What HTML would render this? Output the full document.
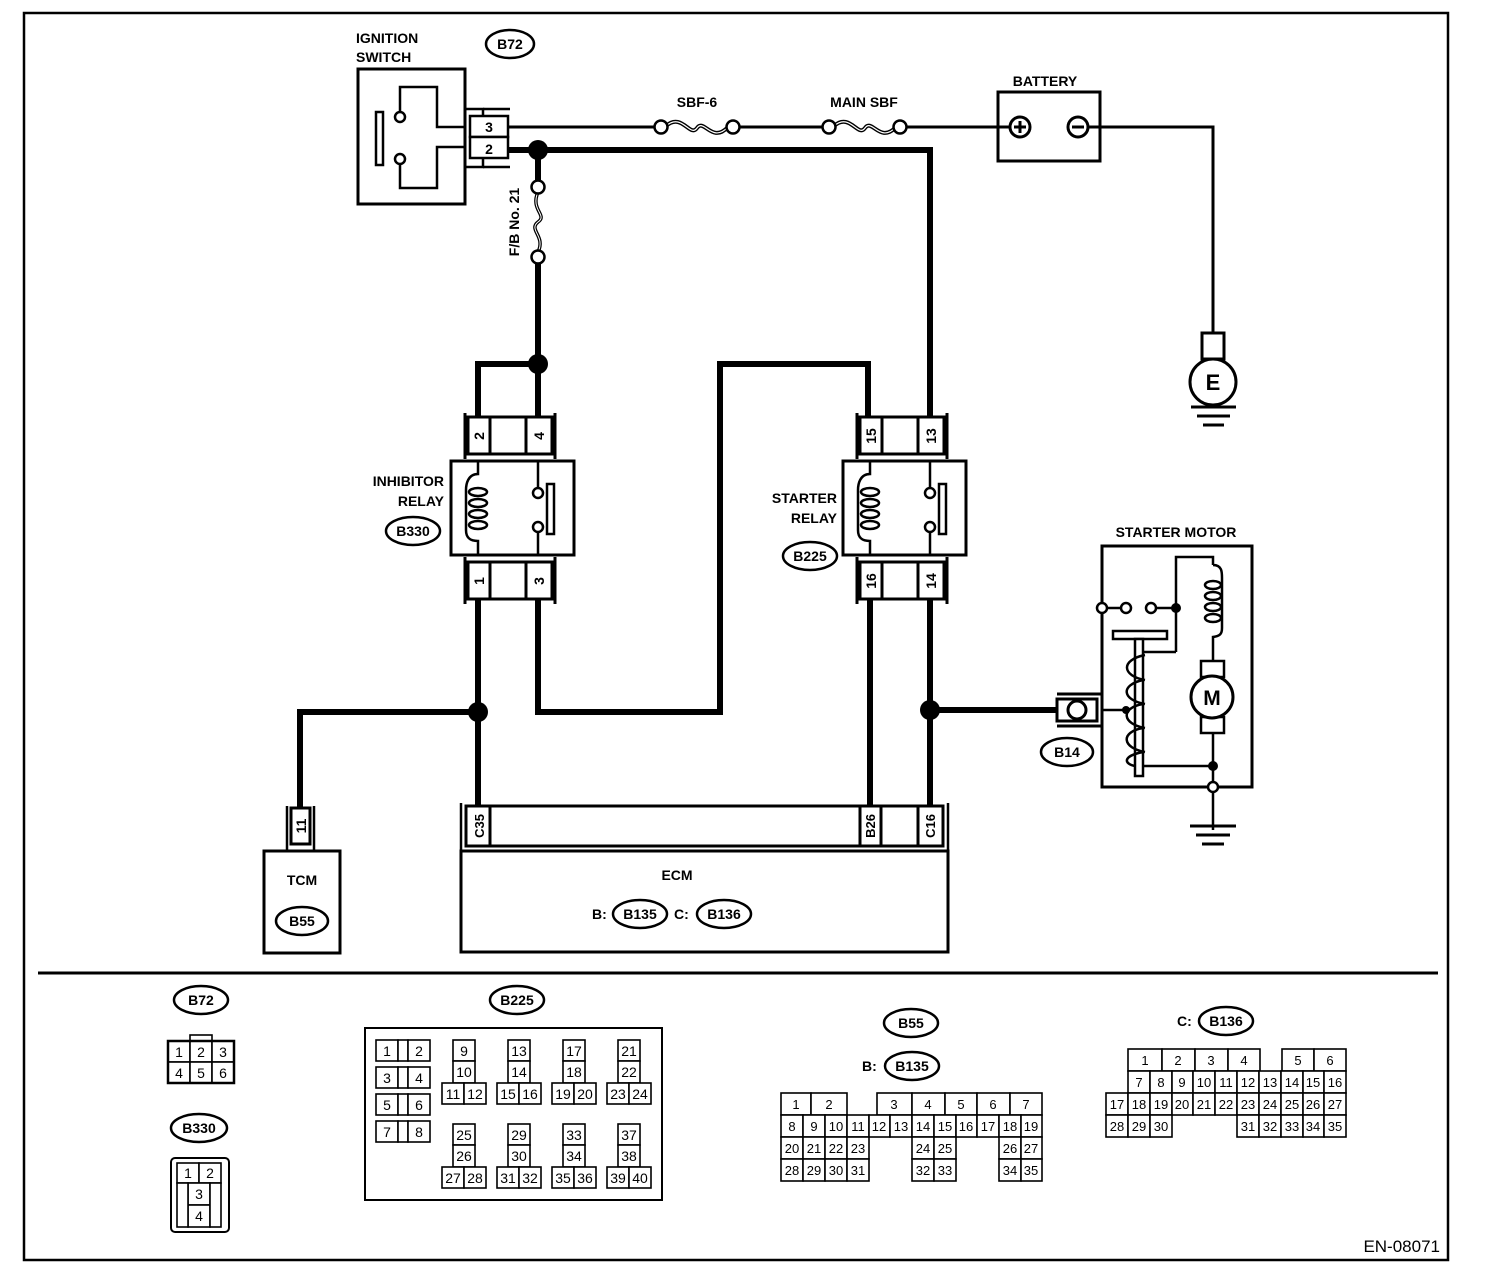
<!DOCTYPE html>
<html><head><meta charset="utf-8"><style>
html,body{margin:0;padding:0;background:#fff;}
svg{display:block;}
text{font-family:"Liberation Sans",Arial,sans-serif;fill:#000;}
.b{font-weight:bold;font-size:14px;}
.n{font-size:14px;}
.g rect{fill:#fff;stroke:#000;stroke-width:1.6;}
</style></head><body>
<svg width="1504" height="1274" viewBox="0 0 1504 1274" xmlns="http://www.w3.org/2000/svg">
<rect x="24" y="13" width="1424" height="1247" fill="none" stroke="#000" stroke-width="2.5"/>
<line x1="38" y1="973" x2="1438" y2="973" stroke="#000" stroke-width="3"/>

<!-- Ignition switch -->
<text class="b" x="356" y="43">IGNITION</text>
<text class="b" x="356" y="62">SWITCH</text>
<ellipse cx="510" cy="44" rx="24" ry="14" fill="none" stroke="#000" stroke-width="2.5"/>
<text class="b" x="510" y="49" text-anchor="middle">B72</text>
<rect x="358" y="69" width="107" height="135" fill="none" stroke="#000" stroke-width="3"/>
<rect x="376" y="112" width="7" height="53" fill="none" stroke="#000" stroke-width="2.5"/>
<polyline points="400,112 400,87 437,87 437,127 465,127" fill="none" stroke="#000" stroke-width="2.5"/>
<polyline points="400,164 400,188 437,188 437,147 465,147" fill="none" stroke="#000" stroke-width="2.5"/>
<circle cx="400" cy="117" r="5" fill="#fff" stroke="#000" stroke-width="2.5"/>
<circle cx="400" cy="159" r="5" fill="#fff" stroke="#000" stroke-width="2.5"/>
<polyline points="465,109 483,109 483,167 465,167" fill="none" stroke="#000" stroke-width="2.5"/>
<line x1="483" y1="109" x2="510" y2="109" stroke="#000" stroke-width="2.5"/>
<line x1="483" y1="167" x2="510" y2="167" stroke="#000" stroke-width="2.5"/>
<rect x="470" y="116" width="38" height="21" fill="#fff" stroke="#000" stroke-width="2.5"/>
<rect x="470" y="137" width="38" height="21" fill="#fff" stroke="#000" stroke-width="2.5"/>
<text class="b" x="489" y="132" text-anchor="middle">3</text>
<text class="b" x="489" y="154" text-anchor="middle">2</text>

<!-- thin wire 3 to battery -->
<line x1="508" y1="127" x2="655" y2="127" stroke="#000" stroke-width="3"/>
<line x1="739" y1="127" x2="823" y2="127" stroke="#000" stroke-width="3"/>
<line x1="906" y1="127" x2="1012" y2="127" stroke="#000" stroke-width="3"/>
<text class="b" x="697" y="107" text-anchor="middle">SBF-6</text>
<text class="b" x="864" y="107" text-anchor="middle">MAIN SBF</text>
<path d="M666,126 C682,112 690,138 697,128 C704,118 712,144 728,127" fill="none" stroke="#000" stroke-width="4"/>
<path d="M666,126 C682,112 690,138 697,128 C704,118 712,144 728,127" fill="none" stroke="#fff" stroke-width="1.2"/>
<path d="M834,126 C850,112 858,138 865,128 C872,118 880,144 896,127" fill="none" stroke="#000" stroke-width="4"/>
<path d="M834,126 C850,112 858,138 865,128 C872,118 880,144 896,127" fill="none" stroke="#fff" stroke-width="1.2"/>
<circle cx="661" cy="127" r="6.5" fill="#fff" stroke="#000" stroke-width="2.5"/>
<circle cx="733" cy="127" r="6.5" fill="#fff" stroke="#000" stroke-width="2.5"/>
<circle cx="829" cy="127" r="6.5" fill="#fff" stroke="#000" stroke-width="2.5"/>
<circle cx="900" cy="127" r="6.5" fill="#fff" stroke="#000" stroke-width="2.5"/>

<!-- battery -->
<text class="b" x="1045" y="86" text-anchor="middle">BATTERY</text>
<rect x="998" y="92" width="102" height="69" fill="none" stroke="#000" stroke-width="3"/>
<circle cx="1020" cy="127" r="10" fill="#fff" stroke="#000" stroke-width="3"/>
<line x1="1014" y1="127" x2="1026" y2="127" stroke="#000" stroke-width="3"/>
<line x1="1020" y1="121" x2="1020" y2="133" stroke="#000" stroke-width="3"/>
<circle cx="1078" cy="127" r="10" fill="#fff" stroke="#000" stroke-width="3"/>
<line x1="1072" y1="127" x2="1084" y2="127" stroke="#000" stroke-width="3"/>
<polyline points="1088,127 1213,127 1213,333" fill="none" stroke="#000" stroke-width="3"/>
<rect x="1202" y="333" width="22" height="26" fill="#fff" stroke="#000" stroke-width="3"/>
<circle cx="1213" cy="382" r="23" fill="#fff" stroke="#000" stroke-width="3"/>
<text x="1213" y="390" text-anchor="middle" style="font-size:22px;font-weight:bold">E</text>
<line x1="1191" y1="407" x2="1236" y2="407" stroke="#000" stroke-width="3"/>
<line x1="1197" y1="416" x2="1230" y2="416" stroke="#000" stroke-width="3"/>
<line x1="1203" y1="425" x2="1224" y2="425" stroke="#000" stroke-width="3"/>

<!-- thick wires -->
<g fill="none" stroke="#000" stroke-width="6">
<polyline points="508,150 930,150 930,417"/>
<line x1="538" y1="150" x2="538" y2="181"/>
<line x1="538" y1="262" x2="538" y2="417"/>
<polyline points="538,364 478,364 478,417"/>
<polyline points="538,600 538,712 720,712 720,364 868,364 868,417"/>
<line x1="478" y1="600" x2="478" y2="808"/>
<polyline points="478,712 300,712 300,808"/>
<line x1="870" y1="600" x2="870" y2="808"/>
<line x1="930" y1="600" x2="930" y2="808"/>
<line x1="930" y1="710" x2="1057" y2="710"/>
</g>
<circle cx="538" cy="150" r="10" fill="#000"/>
<circle cx="538" cy="364" r="10" fill="#000"/>
<circle cx="478" cy="712" r="10" fill="#000"/>
<circle cx="930" cy="710" r="10" fill="#000"/>
<!-- F/B fuse -->
<path d="M538,192 C530,210 548,215 538,222 C528,230 546,236 538,252" fill="none" stroke="#000" stroke-width="3.5"/>
<path d="M538,192 C530,210 548,215 538,222 C528,230 546,236 538,252" fill="none" stroke="#fff" stroke-width="1"/>
<circle cx="538" cy="187" r="6.5" fill="#fff" stroke="#000" stroke-width="2.5"/>
<circle cx="538" cy="257" r="6.5" fill="#fff" stroke="#000" stroke-width="2.5"/>
<text class="b" transform="translate(519,222) rotate(-90)" text-anchor="middle">F/B No. 21</text>

<!-- relays -->
<g id="relay">
<polyline points="465,413 465,459" fill="none" stroke="#000" stroke-width="3"/>
<polyline points="555,413 555,459" fill="none" stroke="#000" stroke-width="3"/>
<rect x="468" y="417" width="84" height="37" fill="#fff" stroke="#000" stroke-width="3"/>
<line x1="490" y1="417" x2="490" y2="454" stroke="#000" stroke-width="3"/>
<line x1="526" y1="417" x2="526" y2="454" stroke="#000" stroke-width="3"/>
<rect x="451" y="461" width="123" height="94" fill="#fff" stroke="#000" stroke-width="3"/>
<path d="M478,461 L478,474 C468,474 466,484 466,490 L466,530 C466,538 470,541 478,541 L478,555" fill="none" stroke="#000" stroke-width="2.5"/>
<ellipse cx="478" cy="492" rx="9" ry="4" fill="#fff" stroke="#000" stroke-width="2.5"/>
<ellipse cx="478" cy="503" rx="9" ry="4" fill="#fff" stroke="#000" stroke-width="2.5"/>
<ellipse cx="478" cy="514" rx="9" ry="4" fill="#fff" stroke="#000" stroke-width="2.5"/>
<ellipse cx="478" cy="525" rx="9" ry="4" fill="#fff" stroke="#000" stroke-width="2.5"/>
<line x1="538" y1="461" x2="538" y2="488" stroke="#000" stroke-width="2.5"/>
<line x1="538" y1="532" x2="538" y2="555" stroke="#000" stroke-width="2.5"/>
<circle cx="538" cy="493" r="5" fill="#fff" stroke="#000" stroke-width="2.5"/>
<circle cx="538" cy="527" r="5" fill="#fff" stroke="#000" stroke-width="2.5"/>
<rect x="547" y="484" width="7" height="50" fill="#fff" stroke="#000" stroke-width="2.5"/>
<polyline points="465,557 465,604" fill="none" stroke="#000" stroke-width="3"/>
<polyline points="555,557 555,604" fill="none" stroke="#000" stroke-width="3"/>
<rect x="468" y="562" width="84" height="37" fill="#fff" stroke="#000" stroke-width="3"/>
<line x1="490" y1="562" x2="490" y2="599" stroke="#000" stroke-width="3"/>
<line x1="526" y1="562" x2="526" y2="599" stroke="#000" stroke-width="3"/>
</g>
<use href="#relay" transform="translate(392,0)"/>
<g class="b">
<text transform="translate(484,436) rotate(-90)" text-anchor="middle">2</text>
<text transform="translate(544,436) rotate(-90)" text-anchor="middle">4</text>
<text transform="translate(484,581) rotate(-90)" text-anchor="middle">1</text>
<text transform="translate(544,581) rotate(-90)" text-anchor="middle">3</text>
<text transform="translate(876,436) rotate(-90)" text-anchor="middle">15</text>
<text transform="translate(936,436) rotate(-90)" text-anchor="middle">13</text>
<text transform="translate(876,581) rotate(-90)" text-anchor="middle">16</text>
<text transform="translate(936,581) rotate(-90)" text-anchor="middle">14</text>
<text x="444" y="486" text-anchor="end">INHIBITOR</text>
<text x="444" y="506" text-anchor="end">RELAY</text>
<text x="837" y="503" text-anchor="end">STARTER</text>
<text x="837" y="523" text-anchor="end">RELAY</text>
</g>
<ellipse cx="413" cy="531" rx="27" ry="14" fill="none" stroke="#000" stroke-width="2.5"/>
<text class="b" x="413" y="536" text-anchor="middle">B330</text>
<ellipse cx="810" cy="556" rx="27" ry="14" fill="none" stroke="#000" stroke-width="2.5"/>
<text class="b" x="810" y="561" text-anchor="middle">B225</text>

<!-- B14 + starter motor -->
<polyline points="1057,694 1102,694" fill="none" stroke="#000" stroke-width="3"/>
<polyline points="1057,726 1102,726" fill="none" stroke="#000" stroke-width="3"/>
<rect x="1057" y="699" width="40" height="22" fill="#fff" stroke="#000" stroke-width="3"/>
<ellipse cx="1077" cy="710" rx="9" ry="9" fill="#fff" stroke="#000" stroke-width="3"/>
<ellipse cx="1067" cy="752" rx="26" ry="14" fill="none" stroke="#000" stroke-width="2.5"/>
<text class="b" x="1067" y="757" text-anchor="middle">B14</text>
<text class="b" x="1176" y="537" text-anchor="middle">STARTER MOTOR</text>
<rect x="1102" y="546" width="150" height="241" fill="none" stroke="#000" stroke-width="3"/>
<line x1="1102" y1="608" x2="1126" y2="608" stroke="#000" stroke-width="2.5"/>
<line x1="1151" y1="608" x2="1176" y2="608" stroke="#000" stroke-width="2.5"/>
<polyline points="1176,652 1176,557 1213,557 1213,565" fill="none" stroke="#000" stroke-width="2.5"/>
<polyline points="1176,652 1143,652" fill="none" stroke="#000" stroke-width="2.5"/>
<path d="M1213,565 C1222,565 1222,572 1222,578 L1222,628 C1222,634 1220,636 1213,637 L1213,660" fill="none" stroke="#000" stroke-width="2.5"/>
<ellipse cx="1213" cy="585" rx="8" ry="4" fill="#fff" stroke="#000" stroke-width="2.5"/>
<ellipse cx="1213" cy="596" rx="8" ry="4" fill="#fff" stroke="#000" stroke-width="2.5"/>
<ellipse cx="1213" cy="607" rx="8" ry="4" fill="#fff" stroke="#000" stroke-width="2.5"/>
<ellipse cx="1213" cy="618" rx="8" ry="4" fill="#fff" stroke="#000" stroke-width="2.5"/>
<rect x="1201" y="661" width="23" height="16" fill="#fff" stroke="#000" stroke-width="2.5"/>
<rect x="1201" y="717" width="23" height="16" fill="#fff" stroke="#000" stroke-width="2.5"/>
<circle cx="1212" cy="697" r="21" fill="#fff" stroke="#000" stroke-width="3"/>
<text x="1212" y="705" text-anchor="middle" style="font-size:21px;font-weight:bold">M</text>
<polyline points="1213,733 1213,830" fill="none" stroke="#000" stroke-width="2.5"/>
<line x1="1143" y1="766" x2="1213" y2="766" stroke="#000" stroke-width="2.5"/>
<line x1="1102" y1="710" x2="1127" y2="710" stroke="#000" stroke-width="2.5"/>
<rect x="1113" y="631" width="54" height="8" fill="#fff" stroke="#000" stroke-width="2.5"/>
<rect x="1135" y="639" width="8" height="137" fill="#fff" stroke="#000" stroke-width="2.5"/>
<path d="M1145,655 C1120,660 1122,676 1145,680 M1143,680 C1120,685 1122,700 1145,704 M1143,704 C1120,708 1122,724 1145,728 M1143,728 C1120,732 1122,748 1145,752 M1143,752 C1122,756 1124,764 1135,766" fill="none" stroke="#000" stroke-width="2.5"/>
<circle cx="1126" cy="710" r="4" fill="#000"/>
<circle cx="1102" cy="608" r="5" fill="#fff" stroke="#000" stroke-width="2.5"/>
<circle cx="1126" cy="608" r="5" fill="#fff" stroke="#000" stroke-width="2.5"/>
<circle cx="1151" cy="608" r="5" fill="#fff" stroke="#000" stroke-width="2.5"/>
<circle cx="1176" cy="608" r="5" fill="#000"/>
<circle cx="1213" cy="766" r="5" fill="#000"/>
<circle cx="1213" cy="787" r="5" fill="#fff" stroke="#000" stroke-width="2.5"/>
<line x1="1190" y1="826" x2="1236" y2="826" stroke="#000" stroke-width="3"/>
<line x1="1196" y1="835" x2="1230" y2="835" stroke="#000" stroke-width="3"/>
<line x1="1202" y1="844" x2="1224" y2="844" stroke="#000" stroke-width="3"/>

<!-- TCM -->
<polyline points="287,806 287,852" fill="none" stroke="#000" stroke-width="2.5"/>
<polyline points="314,806 314,852" fill="none" stroke="#000" stroke-width="2.5"/>
<rect x="291" y="808" width="19" height="36" fill="#fff" stroke="#000" stroke-width="3"/>
<text class="b" transform="translate(306,826) rotate(-90)" text-anchor="middle">11</text>
<rect x="264" y="851" width="76" height="102" fill="none" stroke="#000" stroke-width="3"/>
<text class="b" x="302" y="885" text-anchor="middle">TCM</text>
<ellipse cx="302" cy="921" rx="26" ry="14" fill="none" stroke="#000" stroke-width="2.5"/>
<text class="b" x="302" y="926" text-anchor="middle">B55</text>

<!-- ECM -->
<polyline points="461,803 461,850" fill="none" stroke="#000" stroke-width="2.5"/>
<polyline points="948,803 948,850" fill="none" stroke="#000" stroke-width="2.5"/>
<rect x="466" y="806" width="477" height="40" fill="#fff" stroke="#000" stroke-width="3"/>
<line x1="490" y1="806" x2="490" y2="846" stroke="#000" stroke-width="3"/>
<line x1="860" y1="806" x2="860" y2="846" stroke="#000" stroke-width="3"/>
<line x1="881" y1="806" x2="881" y2="846" stroke="#000" stroke-width="3"/>
<line x1="918" y1="806" x2="918" y2="846" stroke="#000" stroke-width="3"/>
<g class="b" style="font-size:13px">
<text transform="translate(484,826) rotate(-90)" text-anchor="middle">C35</text>
<text transform="translate(875,826) rotate(-90)" text-anchor="middle">B26</text>
<text transform="translate(935,826) rotate(-90)" text-anchor="middle">C16</text>
</g>
<rect x="461" y="851" width="487" height="101" fill="none" stroke="#000" stroke-width="3"/>
<text class="b" x="677" y="880" text-anchor="middle">ECM</text>
<text class="b" x="592" y="919">B:</text>
<ellipse cx="640" cy="914" rx="27" ry="14" fill="none" stroke="#000" stroke-width="2.5"/>
<text class="b" x="640" y="919" text-anchor="middle">B135</text>
<text class="b" x="674" y="919">C:</text>
<ellipse cx="724" cy="914" rx="27" ry="14" fill="none" stroke="#000" stroke-width="2.5"/>
<text class="b" x="724" y="919" text-anchor="middle">B136</text>

<!-- bottom: B72 -->
<ellipse cx="201" cy="1000" rx="27" ry="14" fill="none" stroke="#000" stroke-width="2.5"/>
<text class="b" x="201" y="1005" text-anchor="middle">B72</text>
<g class="g">
<rect x="190" y="1035" width="22" height="7"/>
<rect x="168" y="1041" width="22" height="21"/><rect x="190" y="1041" width="22" height="21"/><rect x="212" y="1041" width="22" height="21"/>
<rect x="168" y="1062" width="22" height="21"/><rect x="190" y="1062" width="22" height="21"/><rect x="212" y="1062" width="22" height="21"/>
</g>
<rect x="168" y="1041" width="66" height="42" fill="none" stroke="#000" stroke-width="2.5"/>
<g class="n" text-anchor="middle">
<text x="179" y="1057">1</text><text x="201" y="1057">2</text><text x="223" y="1057">3</text>
<text x="179" y="1078">4</text><text x="201" y="1078">5</text><text x="223" y="1078">6</text>
</g>
<!-- B330 -->
<ellipse cx="199" cy="1128" rx="28" ry="14" fill="none" stroke="#000" stroke-width="2.5"/>
<text class="b" x="199" y="1133" text-anchor="middle">B330</text>
<rect x="171" y="1158" width="58" height="74" rx="4" fill="none" stroke="#000" stroke-width="2"/>
<g class="g">
<rect x="177" y="1163" width="22" height="20"/><rect x="199" y="1163" width="22" height="20"/>
<rect x="188" y="1183" width="22" height="22"/><rect x="188" y="1205" width="22" height="22"/>
<rect x="177" y="1183" width="11" height="44"/><rect x="210" y="1183" width="11" height="44"/>
</g>
<g class="n" text-anchor="middle">
<text x="188" y="1178">1</text><text x="210" y="1178">2</text><text x="199" y="1199">3</text><text x="199" y="1221">4</text>
</g>

<!-- B225 -->
<ellipse cx="517" cy="1000" rx="27" ry="14" fill="none" stroke="#000" stroke-width="2.5"/>
<text class="b" x="517" y="1005" text-anchor="middle">B225</text>
<rect x="365" y="1028" width="297" height="172" fill="none" stroke="#000" stroke-width="2"/>
<g class="g">
<rect x="376" y="1040" width="22" height="21"/><rect x="398" y="1040" width="10" height="21"/><rect x="408" y="1040" width="22" height="21"/>
<rect x="376" y="1067" width="22" height="21"/><rect x="398" y="1067" width="10" height="21"/><rect x="408" y="1067" width="22" height="21"/>
<rect x="376" y="1094" width="22" height="21"/><rect x="398" y="1094" width="10" height="21"/><rect x="408" y="1094" width="22" height="21"/>
<rect x="376" y="1121" width="22" height="21"/><rect x="398" y="1121" width="10" height="21"/><rect x="408" y="1121" width="22" height="21"/>
</g>
<g class="g" id="grp">
<rect x="453" y="1040" width="22" height="21"/><rect x="453" y="1061" width="22" height="22"/>
<rect x="442" y="1083" width="22" height="21"/><rect x="464" y="1083" width="22" height="21"/>
</g>
<use href="#grp" transform="translate(55,0)"/><use href="#grp" transform="translate(110,0)"/><use href="#grp" transform="translate(165,0)"/>
<use href="#grp" transform="translate(0,84)"/><use href="#grp" transform="translate(55,84)"/><use href="#grp" transform="translate(110,84)"/><use href="#grp" transform="translate(165,84)"/>
<g class="n" text-anchor="middle">
<text x="387" y="1056">1</text><text x="419" y="1056">2</text>
<text x="387" y="1083">3</text><text x="419" y="1083">4</text>
<text x="387" y="1110">5</text><text x="419" y="1110">6</text>
<text x="387" y="1137">7</text><text x="419" y="1137">8</text>
<text x="464" y="1056">9</text><text x="464" y="1077">10</text><text x="453" y="1099">11</text><text x="475" y="1099">12</text>
<text x="519" y="1056">13</text><text x="519" y="1077">14</text><text x="508" y="1099">15</text><text x="530" y="1099">16</text>
<text x="574" y="1056">17</text><text x="574" y="1077">18</text><text x="563" y="1099">19</text><text x="585" y="1099">20</text>
<text x="629" y="1056">21</text><text x="629" y="1077">22</text><text x="618" y="1099">23</text><text x="640" y="1099">24</text>
<text x="464" y="1140">25</text><text x="464" y="1161">26</text><text x="453" y="1183">27</text><text x="475" y="1183">28</text>
<text x="519" y="1140">29</text><text x="519" y="1161">30</text><text x="508" y="1183">31</text><text x="530" y="1183">32</text>
<text x="574" y="1140">33</text><text x="574" y="1161">34</text><text x="563" y="1183">35</text><text x="585" y="1183">36</text>
<text x="629" y="1140">37</text><text x="629" y="1161">38</text><text x="618" y="1183">39</text><text x="640" y="1183">40</text>
</g>

<!-- B55 / B135 -->
<ellipse cx="911" cy="1023" rx="27" ry="14" fill="none" stroke="#000" stroke-width="2.5"/>
<text class="b" x="911" y="1028" text-anchor="middle">B55</text>
<text class="b" x="862" y="1071">B:</text>
<ellipse cx="912" cy="1066" rx="27" ry="14" fill="none" stroke="#000" stroke-width="2.5"/>
<text class="b" x="912" y="1071" text-anchor="middle">B135</text>
<g class="g">
<rect x="781" y="1093" width="30" height="22"/><rect x="811" y="1093" width="36" height="22"/>
<rect x="877" y="1093" width="35" height="22"/><rect x="912" y="1093" width="33" height="22"/><rect x="945" y="1093" width="32" height="22"/><rect x="977" y="1093" width="33" height="22"/><rect x="1010" y="1093" width="32" height="22"/>
<rect x="781" y="1115" width="22" height="22"/><rect x="803" y="1115" width="22" height="22"/><rect x="825" y="1115" width="22" height="22"/><rect x="847" y="1115" width="22" height="22"/><rect x="869" y="1115" width="21" height="22"/><rect x="890" y="1115" width="22" height="22"/><rect x="912" y="1115" width="22" height="22"/><rect x="934" y="1115" width="22" height="22"/><rect x="956" y="1115" width="21" height="22"/><rect x="977" y="1115" width="22" height="22"/><rect x="999" y="1115" width="22" height="22"/><rect x="1021" y="1115" width="21" height="22"/>
<rect x="781" y="1137" width="22" height="22"/><rect x="803" y="1137" width="22" height="22"/><rect x="825" y="1137" width="22" height="22"/><rect x="847" y="1137" width="22" height="22"/><rect x="912" y="1137" width="22" height="22"/><rect x="934" y="1137" width="22" height="22"/><rect x="999" y="1137" width="22" height="22"/><rect x="1021" y="1137" width="21" height="22"/>
<rect x="781" y="1159" width="22" height="22"/><rect x="803" y="1159" width="22" height="22"/><rect x="825" y="1159" width="22" height="22"/><rect x="847" y="1159" width="22" height="22"/><rect x="912" y="1159" width="22" height="22"/><rect x="934" y="1159" width="22" height="22"/><rect x="999" y="1159" width="22" height="22"/><rect x="1021" y="1159" width="21" height="22"/>
</g>
<g class="n" text-anchor="middle" style="font-size:13px">
<text x="796" y="1109">1</text><text x="829" y="1109">2</text><text x="894" y="1109">3</text><text x="928" y="1109">4</text><text x="961" y="1109">5</text><text x="993" y="1109">6</text><text x="1026" y="1109">7</text>
<text x="792" y="1131">8</text><text x="814" y="1131">9</text><text x="836" y="1131">10</text><text x="858" y="1131">11</text><text x="879" y="1131">12</text><text x="901" y="1131">13</text><text x="923" y="1131">14</text><text x="945" y="1131">15</text><text x="966" y="1131">16</text><text x="988" y="1131">17</text><text x="1010" y="1131">18</text><text x="1031" y="1131">19</text>
<text x="792" y="1153">20</text><text x="814" y="1153">21</text><text x="836" y="1153">22</text><text x="858" y="1153">23</text><text x="923" y="1153">24</text><text x="945" y="1153">25</text><text x="1010" y="1153">26</text><text x="1031" y="1153">27</text>
<text x="792" y="1175">28</text><text x="814" y="1175">29</text><text x="836" y="1175">30</text><text x="858" y="1175">31</text><text x="923" y="1175">32</text><text x="945" y="1175">33</text><text x="1010" y="1175">34</text><text x="1031" y="1175">35</text>
</g>

<!-- B136 -->
<text class="b" x="1177" y="1026">C:</text>
<ellipse cx="1226" cy="1021" rx="27" ry="14" fill="none" stroke="#000" stroke-width="2.5"/>
<text class="b" x="1226" y="1026" text-anchor="middle">B136</text>
<g class="g">
<rect x="1128" y="1049" width="34" height="22"/><rect x="1162" y="1049" width="33" height="22"/><rect x="1195" y="1049" width="33" height="22"/><rect x="1228" y="1049" width="32" height="22"/><rect x="1282" y="1049" width="32" height="22"/><rect x="1314" y="1049" width="32" height="22"/>
<rect x="1128" y="1071" width="22" height="22"/><rect x="1150" y="1071" width="22" height="22"/><rect x="1172" y="1071" width="21" height="22"/><rect x="1193" y="1071" width="22" height="22"/><rect x="1215" y="1071" width="22" height="22"/><rect x="1237" y="1071" width="22" height="22"/><rect x="1259" y="1071" width="22" height="22"/><rect x="1281" y="1071" width="22" height="22"/><rect x="1303" y="1071" width="21" height="22"/><rect x="1324" y="1071" width="22" height="22"/>
<rect x="1106" y="1093" width="22" height="22"/><rect x="1128" y="1093" width="22" height="22"/><rect x="1150" y="1093" width="22" height="22"/><rect x="1172" y="1093" width="21" height="22"/><rect x="1193" y="1093" width="22" height="22"/><rect x="1215" y="1093" width="22" height="22"/><rect x="1237" y="1093" width="22" height="22"/><rect x="1259" y="1093" width="22" height="22"/><rect x="1281" y="1093" width="22" height="22"/><rect x="1303" y="1093" width="21" height="22"/><rect x="1324" y="1093" width="22" height="22"/>
<rect x="1106" y="1115" width="22" height="22"/><rect x="1128" y="1115" width="22" height="22"/><rect x="1150" y="1115" width="22" height="22"/><rect x="1237" y="1115" width="22" height="22"/><rect x="1259" y="1115" width="22" height="22"/><rect x="1281" y="1115" width="22" height="22"/><rect x="1303" y="1115" width="21" height="22"/><rect x="1324" y="1115" width="22" height="22"/>
</g>
<g class="n" text-anchor="middle" style="font-size:13px">
<text x="1145" y="1065">1</text><text x="1178" y="1065">2</text><text x="1211" y="1065">3</text><text x="1244" y="1065">4</text><text x="1298" y="1065">5</text><text x="1330" y="1065">6</text>
<text x="1139" y="1087">7</text><text x="1161" y="1087">8</text><text x="1182" y="1087">9</text><text x="1204" y="1087">10</text><text x="1226" y="1087">11</text><text x="1248" y="1087">12</text><text x="1270" y="1087">13</text><text x="1292" y="1087">14</text><text x="1313" y="1087">15</text><text x="1335" y="1087">16</text>
<text x="1117" y="1109">17</text><text x="1139" y="1109">18</text><text x="1161" y="1109">19</text><text x="1182" y="1109">20</text><text x="1204" y="1109">21</text><text x="1226" y="1109">22</text><text x="1248" y="1109">23</text><text x="1270" y="1109">24</text><text x="1292" y="1109">25</text><text x="1313" y="1109">26</text><text x="1335" y="1109">27</text>
<text x="1117" y="1131">28</text><text x="1139" y="1131">29</text><text x="1161" y="1131">30</text><text x="1248" y="1131">31</text><text x="1270" y="1131">32</text><text x="1292" y="1131">33</text><text x="1313" y="1131">34</text><text x="1335" y="1131">35</text>
</g>

<text x="1440" y="1252" text-anchor="end" style="font-size:17px">EN-08071</text>
</svg>
</body></html>
